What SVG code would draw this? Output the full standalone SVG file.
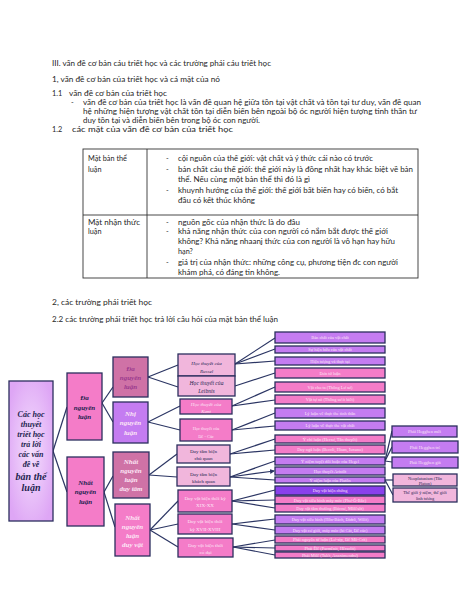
<svg xmlns="http://www.w3.org/2000/svg" width="474" height="613" viewBox="0 0 474 613">
<style>
.t{font-family:Lato,"Liberation Sans",sans-serif;font-size:7.3px;fill:#262626}
.d{font-family:"Liberation Serif","Times New Roman",serif;text-anchor:middle}
.bi{font-weight:bold;font-style:italic}
.it{font-style:italic}
.nv{fill:#1d1f4f}
.lt{fill:#fde6f6}
.mv{fill:#9b3b8e}
.box{stroke:#2b2f5e;stroke-width:1.3}
.pu{fill:#c47cf1}
.pk{fill:#f47cc8}
.dp{fill:#cf72a6}
.lp{fill:#f1b6dc}
.dv{fill:#8a40ec}
.s5{font-size:5px}
.s45{font-size:4.4px}
.s7{font-size:7px}
.c line{stroke:#2b3563;stroke-width:1.2}
.tb{fill:none;stroke:#333;stroke-width:0.9}
</style>
<defs>
<radialGradient id="rg" cx="50%" cy="50%" r="60%">
<stop offset="0" stop-color="#f4defd"/>
<stop offset="1" stop-color="#dea6f5"/>
</radialGradient>
<marker id="ah" markerWidth="5" markerHeight="5" refX="4" refY="2.5" orient="auto" markerUnits="userSpaceOnUse">
<path d="M0,0 L5,2.5 L0,5 z" fill="#2b3563"/>
</marker>
</defs>
<rect width="474" height="613" fill="#fff"/>

<g id="body-text">
<text class="t" x="52" y="66" textLength="219" lengthAdjust="spacingAndGlyphs">III. vấn đề cơ bản cáu triết học và các trường phái cáu triết học</text>
<text class="t" x="52" y="82" textLength="168" lengthAdjust="spacingAndGlyphs">1, vấn đề cơ bản của triết học và cá mặt của nó</text>
<text class="t" x="52" y="96">1.1</text>
<text class="t" x="69" y="96" textLength="98" lengthAdjust="spacingAndGlyphs">vấn đề cơ bản của triết học</text>
<text class="t" x="71" y="105">-</text>
<text class="t" x="83" y="105" textLength="338" lengthAdjust="spacingAndGlyphs">vấn đề cơ bản của triết học là vấn đề quan hệ giữa tồn tại vật chất và tồn tại tư duy, vấn đề quan</text>
<text class="t" x="83" y="114" textLength="334" lengthAdjust="spacingAndGlyphs">hệ những hiện tượng vật chất tồn tại diễn biến bên ngoài bộ óc người hiện tượng tinh thần tư</text>
<text class="t" x="83" y="123" textLength="177" lengthAdjust="spacingAndGlyphs">duy tồn tại và diễn biến bên trong bộ óc con người.</text>
<text class="t" x="52" y="132">1.2</text>
<text class="t" x="72" y="132" textLength="161" lengthAdjust="spacingAndGlyphs">các mặt của vấn đề cơ bản của triết học</text>
</g>

<g id="table">
<rect class="tb" x="83" y="149" width="335" height="129"/>
<line class="tb" x1="147" y1="149" x2="147" y2="278"/>
<line class="tb" x1="83" y1="215" x2="418" y2="215"/>
<text class="t" x="88" y="161">Mặt bản thể</text>
<text class="t" x="88" y="172">luận</text>
<text class="t" x="166" y="161">-</text>
<text class="t" x="166" y="172">-</text>
<text class="t" x="166" y="193">-</text>
<text class="t" x="178" y="161" textLength="195" lengthAdjust="spacingAndGlyphs">cội nguồn của thế giới: vật chất và ý thức cái nào có trước</text>
<text class="t" x="178" y="172" textLength="235" lengthAdjust="spacingAndGlyphs">bản chất cáu thế giới: thế giới này là đồng nhất hay khác biệt về bản</text>
<text class="t" x="178" y="182" textLength="132" lengthAdjust="spacingAndGlyphs">thể. Nếu cùng một bản thể thì đó là gì</text>
<text class="t" x="178" y="193" textLength="220" lengthAdjust="spacingAndGlyphs">khuynh hướng của thế giới: thế giới bất biến hay có biến, có bắt</text>
<text class="t" x="178" y="203" textLength="77" lengthAdjust="spacingAndGlyphs">đầu có kết thúc không</text>
<text class="t" x="88" y="225" textLength="52" lengthAdjust="spacingAndGlyphs">Mặt nhận thức</text>
<text class="t" x="88" y="234">luận</text>
<text class="t" x="166" y="225">-</text>
<text class="t" x="166" y="234">-</text>
<text class="t" x="166" y="265">-</text>
<text class="t" x="178" y="225" textLength="122" lengthAdjust="spacingAndGlyphs">nguồn gốc của nhận thức là do đâu</text>
<text class="t" x="178" y="234" textLength="210" lengthAdjust="spacingAndGlyphs">khả năng nhận thức của con người có nắm bắt được thế giới</text>
<text class="t" x="178" y="244" textLength="217" lengthAdjust="spacingAndGlyphs">không? Khả năng nhaanj thức của con người là vô hạn hay hữu</text>
<text class="t" x="178" y="254">hạn?</text>
<text class="t" x="178" y="265" textLength="220" lengthAdjust="spacingAndGlyphs">giá trị của nhận thức: những công cụ, phương tiện đc con người</text>
<text class="t" x="178" y="275" textLength="102" lengthAdjust="spacingAndGlyphs">khám phá, có đáng tin không.</text>
</g>

<g id="section2">
<text class="t" x="52" y="305" textLength="100" lengthAdjust="spacingAndGlyphs">2,  các trường phái triết học</text>
<text class="t" x="52" y="322" textLength="226" lengthAdjust="spacingAndGlyphs">2.2 các trường phái triết học trả lời câu hỏi của mặt bản thể luận</text>
</g>

<g class="c" id="connectors">
<line x1="53" y1="451" x2="67" y2="407"/>
<line x1="53" y1="451" x2="67" y2="492"/>
<line x1="102" y1="403" x2="113" y2="387"/>
<line x1="102" y1="403" x2="113" y2="422"/>
<line x1="104" y1="492" x2="113" y2="476"/>
<line x1="104" y1="492" x2="115" y2="527"/>
<line x1="148" y1="377" x2="178" y2="365"/>
<line x1="148" y1="377" x2="178" y2="387"/>
<line x1="148" y1="422" x2="180" y2="406"/>
<line x1="148" y1="422" x2="180" y2="430"/>
<line x1="149" y1="475" x2="177" y2="454"/>
<line x1="149" y1="475" x2="177" y2="477"/>
<line x1="150" y1="530" x2="178" y2="501"/>
<line x1="150" y1="530" x2="178" y2="524"/>
<line x1="150" y1="530" x2="178" y2="547"/>
<line x1="235" y1="364" x2="275" y2="338"/>
<line x1="235" y1="364" x2="275" y2="349"/>
<line x1="235" y1="364" x2="275" y2="361"/>
<line x1="235" y1="386" x2="275" y2="373"/>
<line x1="232" y1="406" x2="275" y2="387"/>
<line x1="232" y1="406" x2="275" y2="400"/>
<line x1="232" y1="430" x2="275" y2="413"/>
<line x1="232" y1="430" x2="275" y2="426"/>
<line x1="230" y1="454" x2="275" y2="439"/>
<line x1="230" y1="454" x2="275" y2="450"/>
<line x1="230" y1="477" x2="275" y2="461"/>
<line x1="230" y1="477" x2="274" y2="471" marker-end="url(#ah)"/>
<line x1="230" y1="477" x2="275" y2="480"/>
<line x1="232" y1="501" x2="275" y2="490"/>
<line x1="232" y1="501" x2="275" y2="500"/>
<line x1="232" y1="501" x2="275" y2="508"/>
<line x1="232" y1="524" x2="275" y2="519"/>
<line x1="232" y1="524" x2="275" y2="530"/>
<line x1="233" y1="547" x2="275" y2="540"/>
<line x1="233" y1="547" x2="275" y2="548"/>
<line x1="233" y1="547" x2="275" y2="555"/>
<line x1="385" y1="461" x2="392" y2="431"/>
<line x1="385" y1="461" x2="392" y2="447"/>
<line x1="385" y1="461" x2="392" y2="462"/>
<line x1="385" y1="480" x2="393" y2="480"/>
<line x1="385" y1="480" x2="393" y2="495"/>
</g>

<g id="root">
<rect class="box" x="9" y="381" width="44" height="140" fill="url(#rg)"/>
<text class="d bi nv" x="31" y="417" font-size="8">Các học</text>
<text class="d bi nv" x="31" y="427" font-size="8">thuyết</text>
<text class="d bi nv" x="31" y="437" font-size="8">triết học</text>
<text class="d bi nv" x="31" y="447" font-size="8">trả lời</text>
<text class="d bi nv" x="31" y="457" font-size="8">các vấn</text>
<text class="d bi nv" x="31" y="467" font-size="8">đề về</text>
<text class="d bi nv" x="31" y="479.5" font-size="10">bản thể</text>
<text class="d bi nv" x="31" y="491" font-size="10">luận</text>
</g>

<g id="l1-da">
<rect class="box pk" x="67" y="373" width="35" height="67"/>
<text class="d bi nv s7" x="84.5" y="400">Đa</text>
<text class="d bi nv s7" x="84.5" y="409.5">nguyên</text>
<text class="d bi nv s7" x="84.5" y="419">luận</text>
</g>
<g id="l1-nhat">
<rect class="box pk" x="67" y="457" width="37" height="69"/>
<text class="d bi nv s7" x="85.5" y="484.5">Nhất</text>
<text class="d bi nv s7" x="85.5" y="494">nguyên</text>
<text class="d bi nv s7" x="85.5" y="503.5">luận</text>
</g>

<g id="l2-da">
<rect class="box dp" x="113" y="357" width="35" height="40"/>
<text class="d bi mv s7" x="130.5" y="370.5">Đa</text>
<text class="d bi mv s7" x="130.5" y="379.5">nguyên</text>
<text class="d bi mv s7" x="130.5" y="389">luận</text>
</g>
<g id="l2-nhi">
<rect class="box pu" x="113" y="402" width="35" height="41"/>
<text class="d bi lt s7" x="130.5" y="415.5">Nhị</text>
<text class="d bi lt s7" x="130.5" y="425">nguyên</text>
<text class="d bi lt s7" x="130.5" y="434.5">luận</text>
</g>
<g id="l2-nnl-dt">
<rect class="box dp" x="113" y="452" width="36" height="46"/>
<text class="d bi lt s7" x="131" y="463.5">Nhất</text>
<text class="d bi lt s7" x="131" y="472.5">nguyên</text>
<text class="d bi lt s7" x="131" y="481.5">luận</text>
<text class="d bi lt s7" x="131" y="490.5">duy tâm</text>
</g>
<g id="l2-nnl-dv">
<rect class="box pk" x="115" y="504" width="35" height="52"/>
<text class="d bi lt s7" x="132.5" y="519.5">Nhất</text>
<text class="d bi lt s7" x="132.5" y="528.5">nguyên</text>
<text class="d bi lt s7" x="132.5" y="537.5">luận</text>
<text class="d bi lt s7" x="132.5" y="546.5">duy vật</text>
</g>

<g id="m-russel">
<rect class="box lp" x="178" y="354" width="57" height="22"/>
<text class="d it nv s5" x="206.5" y="364.5">Học thuyết của</text>
<text class="d it nv s5" x="206.5" y="372.5">Russel</text>
</g>
<g id="m-leibnis">
<rect class="box lp" x="178" y="376" width="57" height="20"/>
<text class="d it nv" font-size="5.6" x="206.5" y="384.5">Học thuyết của</text>
<text class="d it nv" font-size="5.6" x="206.5" y="392.5">Leibnis</text>
</g>
<g id="m-kant">
<rect class="box pk" x="180" y="399" width="52" height="15"/>
<text class="d it lt s5" x="206" y="406">Học thuyết của</text>
<text class="d it lt s5" x="206" y="412.5">Kant</text>
</g>
<g id="m-decac">
<rect class="box pk" x="180" y="419" width="52" height="22"/>
<text class="d lt s45" x="206" y="429.5">Học thuyết của</text>
<text class="d lt s45" x="206" y="437.5">Đê - Các</text>
</g>
<g id="m-dt-cq">
<rect class="box lp" x="177" y="445" width="53" height="18"/>
<text class="d nv s5" x="203.5" y="453">Duy tâm biện</text>
<text class="d nv s5" x="203.5" y="460">chủ quan</text>
</g>
<g id="m-dt-kq">
<rect class="box lp" x="177" y="467" width="53" height="19"/>
<text class="d nv s5" x="203.5" y="475.5">Duy tâm biện</text>
<text class="d nv s5" x="203.5" y="482.5">khách quan</text>
</g>
<g id="m-dv-xix">
<rect class="box pk" x="178" y="490" width="54" height="22"/>
<text class="d lt s5" x="205" y="499.5">Duy vật biện thời kỳ</text>
<text class="d lt s5" x="205" y="507">XIX-XX</text>
</g>
<g id="m-dv-xvii">
<rect class="box pk" x="178" y="514" width="54" height="20"/>
<text class="d lt s5" x="205" y="522.5">Duy vật biện thời</text>
<text class="d lt s5" x="205" y="530.5">kỳ XVII-XVIII</text>
</g>
<g id="m-dv-cd">
<rect class="box pk" x="178" y="538" width="55" height="19"/>
<text class="d lt s5" x="205.5" y="546.5">Duy vật biện thời</text>
<text class="d lt s5" x="205.5" y="553.5">cổ đại</text>
</g>

<g id="r1"><rect class="box pu" x="275" y="332" width="110" height="11"/><text class="d lt s45" x="330" y="339">Bản chất của vật chất</text></g>
<g id="r2"><rect class="box pu" x="275" y="346" width="110" height="7"/><text class="d lt s45" x="330" y="351">Sự hiện hữu của vật chất</text></g>
<g id="r3"><rect class="box pu" x="275" y="357" width="110" height="8"/><text class="d lt s45" x="330" y="362.5">Hiện tượng và thực tại</text></g>
<g id="r4"><rect class="box pk" x="275" y="368" width="110" height="10"/><text class="d lt s45" x="330" y="374.5">Đơn tử luận</text></g>
<g id="r5"><rect class="box pk" x="275" y="382" width="110" height="10"/><text class="d lt s45" x="330" y="388.5">Vật cho ta (Thông Lư sư)</text></g>
<g id="r6"><rect class="box pk" x="275" y="395" width="110" height="9"/><text class="d lt s45" x="330" y="401">Vật tự nó (Thông sư ít biết)</text></g>
<g id="r7"><rect class="box pu" x="275" y="408" width="110" height="10"/><text class="d lt s45" x="330" y="414.5">Lý luận về thực thể tinh thần</text></g>
<g id="r8"><rect class="box pu" x="275" y="421" width="110" height="9"/><text class="d lt s45" x="330" y="427">Lý luận về thực thể vật chất</text></g>
<g id="r9"><rect class="box pk" x="275" y="435" width="110" height="8"/><text class="d lt s45" x="330" y="440.5">Ý chí luận (Hecsơ, Tân thuyết)</text></g>
<g id="r10"><rect class="box pk" x="275" y="445" width="110" height="9"/><text class="d lt s45" x="330" y="451">Duy ngã luận (Beccli, Hium, Iuxuno)</text></g>
<g id="r11"><rect class="box pu" x="275" y="457" width="110" height="8"/><text class="d lt s45" x="330" y="462.5">Ý niệm tuyệt đối hoặc của Hegel</text></g>
<g id="r12"><rect class="box pu" x="275" y="467" width="110" height="8"/><text class="d lt s45" x="330" y="472.5">Học thuyết Aristôt</text></g>
<g id="r13"><rect class="box pu" x="275" y="477" width="110" height="6"/><text class="d lt s45" x="330" y="481.5">Ý niệm luận của Platôn</text></g>
<g id="r14"><rect class="box dv" x="275" y="486" width="110" height="9"/><text class="d lt s45" x="330" y="492">Duy vật biện chứng</text></g>
<g id="r15"><rect class="box pk" x="275" y="496" width="110" height="8"/><text class="d lt s45" x="330" y="501.5">Duy vật siêu hình máy móc (Phơ-Ô-Bắc)</text></g>
<g id="r16"><rect class="box pk" x="275" y="504" width="110" height="8"/><text class="d lt s45" x="330" y="509.5">Duy vật tầm thường (Búcnơ, Môlêsốt)</text></g>
<g id="r17"><rect class="box pu" x="275" y="515" width="110" height="9"/><text class="d lt s45" x="330" y="521">Duy vật siêu hình (Hôn-Bách, Điđrô, Wôlf)</text></g>
<g id="r18"><rect class="box pu" x="275" y="526" width="110" height="8"/><text class="d lt s45" x="330" y="531.5">Duy vật cơ giới, máy móc (bi Cát, Đê các)</text></g>
<g id="r19"><rect class="box pk" x="275" y="536" width="110" height="7"/><text class="d lt s45" x="330" y="541">Phái nguyên tử luận (Lơ-xíp, Đê Mô-Crít)</text></g>
<g id="r20"><rect class="box pk" x="275" y="545" width="110" height="6"/><text class="d lt s45" x="330" y="549.5">Phái Êlê (Parmênit, Hêraclit)</text></g>
<g id="r21"><rect class="box pk" x="275" y="552" width="110" height="6"/><text class="d lt s45" x="330" y="556.5">Phái Milê (Talét, Anaximenđrơ)</text></g>

<g id="f-heg-moi"><rect class="box pu" x="392" y="426" width="65" height="11"/><text class="d lt s45" x="424.5" y="433">Phái Hegghen mới</text></g>
<g id="f-heg-tre"><rect class="box pu" x="392" y="441" width="66" height="12"/><text class="d lt s45" x="425" y="448.5">Phái Hegghen trẻ</text></g>
<g id="f-heg-gia"><rect class="box pu" x="392" y="457" width="66" height="11"/><text class="d lt s45" x="425" y="464">Phái Hegghen già</text></g>
<g id="f-neo"><rect class="box lp" x="393" y="474" width="64" height="12"/><text class="d nv s45" x="425" y="479.5">Neoplatonism (Tân</text><text class="d nv s45" x="425" y="485">Platon)</text></g>
<g id="f-tg"><rect class="box lp" x="393" y="488" width="64" height="14"/><text class="d nv s45" x="425" y="494">Thế giới ý niệm, thế giới</text><text class="d nv s45" x="425" y="500">linh tương</text></g>
</svg>
